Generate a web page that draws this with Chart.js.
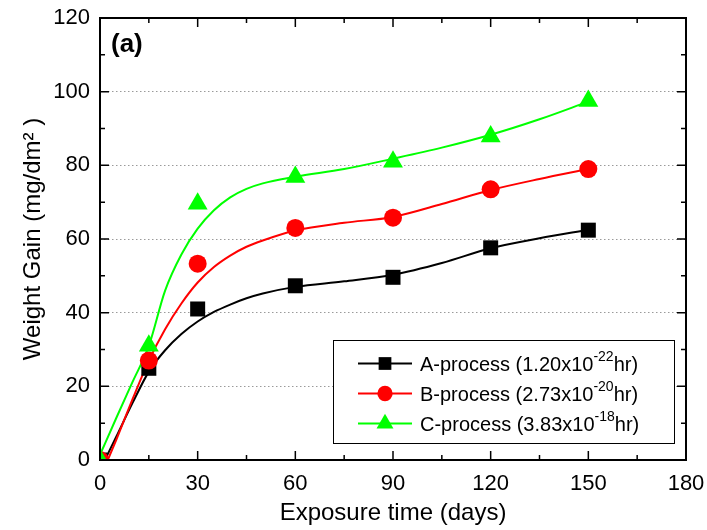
<!DOCTYPE html>
<html>
<head>
<meta charset="utf-8">
<script src="https://cdn.jsdelivr.net/npm/chart.js@4.4.1/dist/chart.umd.min.js"></script>
<style>
  html, body { margin: 0; padding: 0; background: #fff; }
  #wrap { width: 707px; height: 530px; }
</style>
</head>
<body>
<div id="wrap"><canvas id="chart-1" width="707" height="530"></canvas></div>
<script>
// measured weight gain, mg/dm^2
const days = [0, 15, 30, 60, 90, 120, 150]
const gainA = [0, 24.9, 41.0, 47.3, 49.6, 57.6, 62.4]
const gainB = [0, 27.0, 53.3, 63.0, 65.8, 73.5, 79.0]
const gainC = [0, 31.0, 69.6, 76.8, 81.0, 87.8, 97.5]

// fitted curves
const fitDays = [0, 5, 10, 15, 20, 25, 30, 35, 40, 45, 50, 60, 75, 90, 105, 120, 135, 150]
const fitA = [-2.7, 6.3, 15.5, 24.0, 29.8, 34.2, 37.6, 40.2, 42.2, 43.9, 45.2, 47.0, 48.5, 50.3, 53.5, 57.5, 60.2, 62.5]
const fitB = [-5.0, 5.5, 16.5, 27.0, 35.5, 42.5, 48.2, 52.4, 55.5, 57.9, 59.6, 62.3, 64.4, 66.0, 69.5, 73.3, 76.3, 79.0]
const fitC = [1.4, 11.4, 21.2, 31.0, 46.0, 55.8, 62.8, 67.8, 71.3, 73.6, 75.1, 76.9, 79.0, 81.8, 84.8, 88.3, 92.5, 97.3]

const xTicks = [0, 30, 60, 90, 120, 150, 180]
const yTicks = [0, 20, 40, 60, 80, 100, 120]

const names = ['A-process', 'B-process', 'C-process']
const rates = ['1.20', '2.73', '3.83']
const powers = ['-22', '-20', '-18']
const colors = ['#000000', '#ff0000', '#00ff00']
const markers = [
    { pointStyle: 'rect', radius: 10.6 },
    { pointStyle: 'circle', radius: 9 },
    { pointStyle: 'triangle', radius: 11.5 }
]

const toXY = (xs, ys) => xs.map((x, i) => ({ x, y: ys[i] }))

const fitSet = (ys, i) => ({
    type: 'line',
    data: toXY(fitDays, ys),
    borderColor: colors[i],
    borderWidth: 2,
    pointRadius: 0,
    cubicInterpolationMode: 'monotone',
    fill: false,
    order: 6 - i
})

const pointSet = (ys, i) => ({
    type: 'scatter',
    label: names[i],
    data: toXY(days, ys),
    showLine: false,
    backgroundColor: colors[i],
    borderColor: colors[i],
    borderWidth: 0,
    pointStyle: markers[i].pointStyle,
    pointRadius: markers[i].radius,
    pointHoverRadius: markers[i].radius,
    order: 3 - i
})

// box, inward ticks on all four sides, panel letter and legend
const framePlugin = {
    id: 'frame',
    afterDatasetsDraw(chart) {
        const { ctx, chartArea: a, scales: { x, y } } = chart
        ctx.save()
        ctx.strokeStyle = '#000'
        ctx.lineWidth = 1.5
        ctx.beginPath()
        for (let v = 0; v <= 180; v += 15) {
            const px = x.getPixelForValue(v)
            const len = v % 30 === 0 ? 9 : 5
            ctx.moveTo(px, a.bottom); ctx.lineTo(px, a.bottom - len)
            ctx.moveTo(px, a.top); ctx.lineTo(px, a.top + len)
        }
        for (let v = 0; v <= 120; v += 10) {
            const py = y.getPixelForValue(v)
            const len = v % 20 === 0 ? 9 : 5
            ctx.moveTo(a.left, py); ctx.lineTo(a.left + len, py)
            ctx.moveTo(a.right, py); ctx.lineTo(a.right - len, py)
        }
        ctx.stroke()
        ctx.lineWidth = 2
        ctx.strokeRect(a.left, a.top, a.right - a.left, a.bottom - a.top)

        ctx.fillStyle = '#000'
        ctx.font = 'bold 26px "Liberation Sans", Arial, sans-serif'
        ctx.textBaseline = 'alphabetic'
        ctx.fillText('(a)', a.left + 11, a.top + 34)

        // legend
        const bw = 341, bh = 103
        const bx = a.right - 12 - bw, by = a.bottom - 17 - bh
        ctx.fillStyle = '#fff'
        ctx.fillRect(bx, by, bw, bh)
        ctx.lineWidth = 1
        ctx.strokeStyle = '#000'
        ctx.strokeRect(bx + 0.5, by + 0.5, bw, bh)
        names.forEach((name, i) => {
            const cy = by + 23.5 + i * 30
            ctx.strokeStyle = colors[i]
            ctx.fillStyle = colors[i]
            ctx.lineWidth = 2
            ctx.beginPath()
            ctx.moveTo(bx + 25, cy); ctx.lineTo(bx + 79, cy)
            ctx.stroke()
            Chart.helpers.drawPoint(ctx, { pointStyle: markers[i].pointStyle, radius: markers[i].radius * 0.85, rotation: 0, borderWidth: 0 }, bx + 52, cy)
            ctx.fillStyle = '#000'
            let tx = bx + 87
            const base = cy + 7.2
            ctx.font = '20px "Liberation Sans", Arial, sans-serif'
            const head = name + ' (' + rates[i] + 'x10'
            ctx.fillText(head, tx, base)
            tx += ctx.measureText(head).width
            ctx.font = '14px "Liberation Sans", Arial, sans-serif'
            ctx.fillText(powers[i], tx, base - 9.4)
            tx += ctx.measureText(powers[i]).width
            ctx.font = '20px "Liberation Sans", Arial, sans-serif'
            ctx.fillText('hr)', tx, base)
        })
        ctx.restore()
    }
}

const font = { family: '"Liberation Sans", Arial, sans-serif' }

new Chart(document.getElementById('chart-1').getContext('2d'), {
    type: 'scatter',
    data: {
        datasets: [
            fitSet(fitA, 0), fitSet(fitB, 1), fitSet(fitC, 2),
            pointSet(gainA, 0), pointSet(gainB, 1), pointSet(gainC, 2)
        ]
    },
    options: {
        responsive: false,
        animation: false,
        layout: { padding: { top: 18, right: 21, left: 0, bottom: 0 } },
        plugins: {
            legend: { display: false },
            tooltip: { enabled: false }
        },
        scales: {
            x: {
                type: 'linear',
                min: 0,
                max: 180,
                afterFit: s => { s.height = 70; s.paddingLeft = 0; s.paddingRight = 0 },
                afterBuildTicks: s => { s.ticks = xTicks.map(value => ({ value })) },
                grid: { display: false, drawTicks: false },
                border: { display: false },
                ticks: { color: '#000', padding: 11, maxRotation: 0, font: { ...font, size: 22 } },
                title: {
                    display: true,
                    text: 'Exposure time (days)',
                    color: '#000',
                    padding: { top: 0, bottom: 2 },
                    font: { ...font, size: 24 }
                }
            },
            y: {
                min: 0,
                max: 120,
                afterFit: s => { s.width = 100; s.paddingTop = 0; s.paddingBottom = 0 },
                afterBuildTicks: s => { s.ticks = yTicks.map(value => ({ value })) },
                grid: {
                    drawTicks: false,
                    lineWidth: 1,
                    color: c => (c.tick && (c.tick.value === 0 || c.tick.value === 120)) ? 'rgba(0,0,0,0)' : '#9a9a9a'
                },
                border: { display: false, dash: [1.5, 2.5] },
                ticks: { color: '#000', padding: 10, font: { ...font, size: 22 } },
                title: {
                    display: true,
                    text: 'Weight Gain (mg/dm\u00B2 )',
                    color: '#000',
                    padding: { top: 19, bottom: 0 },
                    font: { ...font, size: 24 }
                }
            }
        }
    },
    plugins: [framePlugin]
})
</script>
</body>
</html>
